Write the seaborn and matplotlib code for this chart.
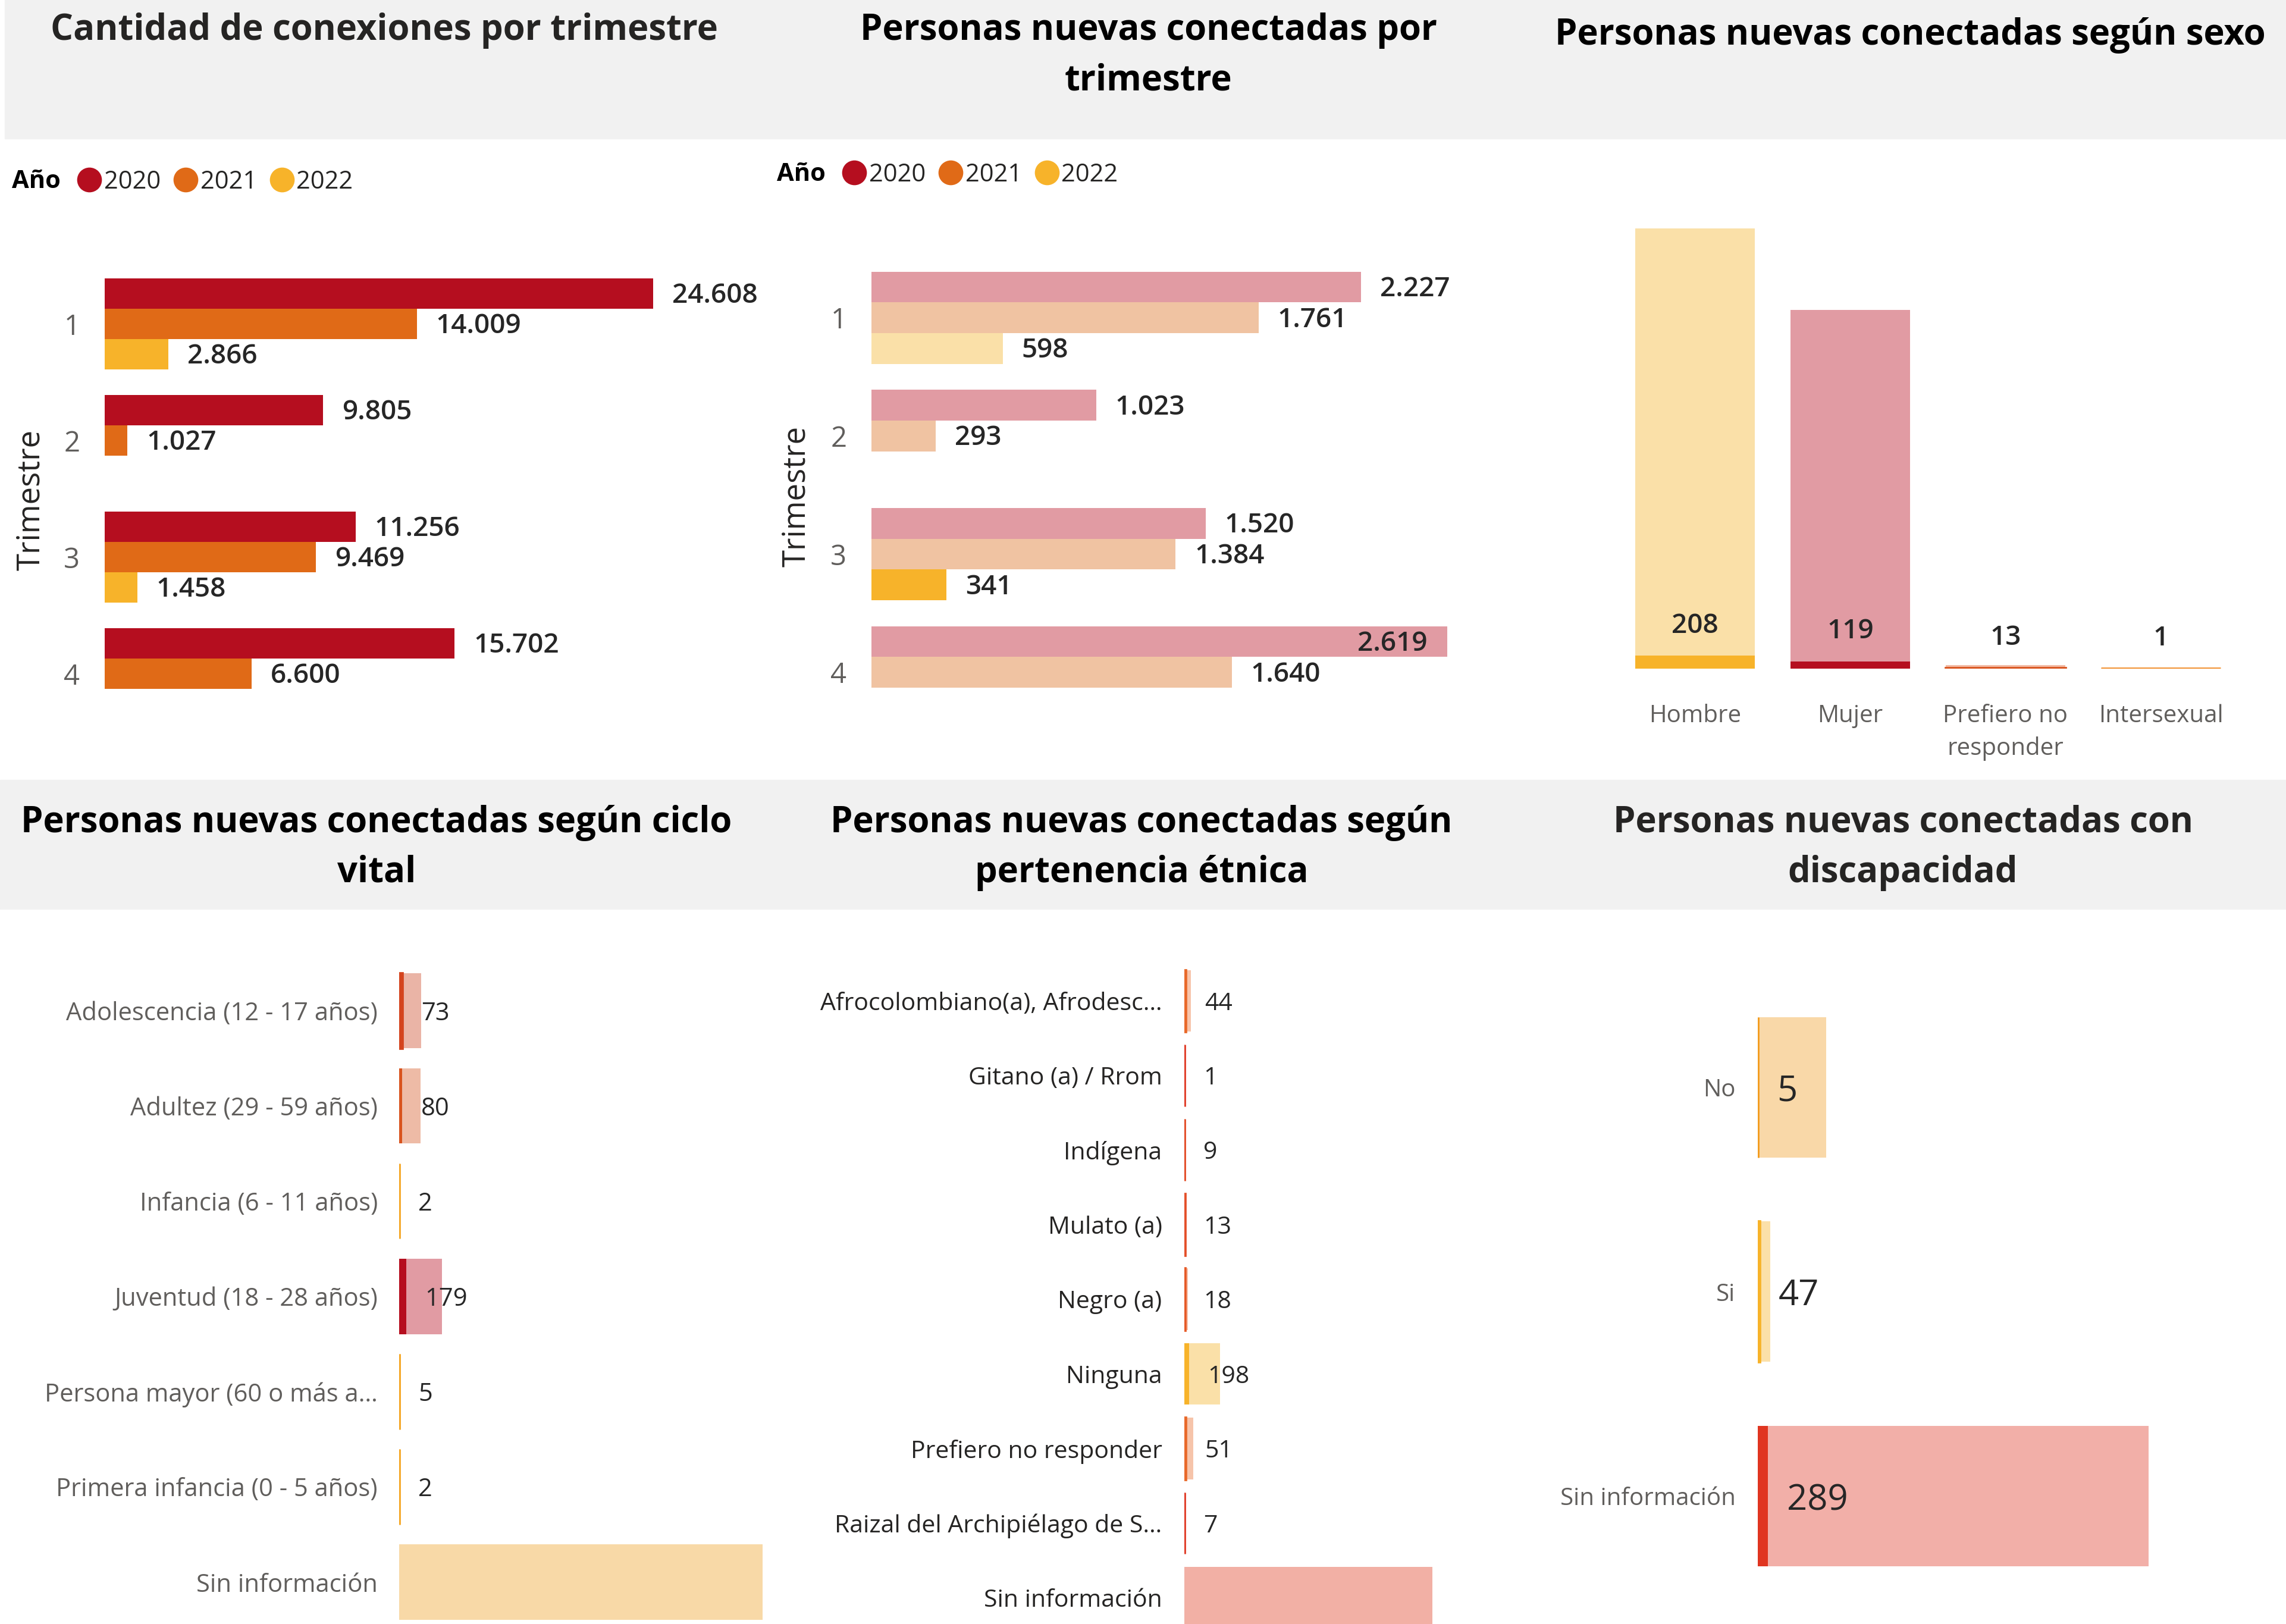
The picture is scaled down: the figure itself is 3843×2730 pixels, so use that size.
import pandas as pd
import seaborn as sns
import matplotlib.pyplot as plt
from matplotlib.patches import Rectangle
from matplotlib.lines import Line2D

sns.set_theme(style='white')
plt.rcParams['font.family'] = ['Open Sans', 'DejaVu Sans']

W, H = 3843, 2730

# ---------------- datos ----------------
trimestres = ['1', '2', '3', '4']
anios = ['2020', '2021', '2022']
filas_trim = ['1', '1', '1', '2', '2', '3', '3', '3', '4', '4']
filas_anio = ['2020', '2021', '2022', '2020', '2021', '2020', '2021', '2022', '2020', '2021']
conexiones = [24608, 14009, 2866, 9805, 1027, 11256, 9469, 1458, 15702, 6600]
personas = [2227, 1761, 598, 1023, 293, 1520, 1384, 341, 2619, 1640]
sel_trim, sel_anio = '3', '2022'   # seleccion resaltada en el tablero

sexo_cat = ['Hombre', 'Mujer', 'Prefiero no\nresponder', 'Intersexual']
sexo_total = [7100, 5790, 55, 12]
sexo_sel = [208, 119, 13, 1]

ciclo_cat = ['Adolescencia (12 - 17 años)', 'Adultez (29 - 59 años)', 'Infancia (6 - 11 años)',
             'Juventud (18 - 28 años)', 'Persona mayor (60 o más a…', 'Primera infancia (0 - 5 años)',
             'Sin información']
ciclo_total = [570, 547, 30, 1109, 40, 30, 11020]
ciclo_sel = [73, 80, 2, 179, 5, 2, 0]

etnia_cat = ['Afrocolombiano(a), Afrodesc…', 'Gitano (a) / Rrom', 'Indígena', 'Mulato (a)', 'Negro (a)',
             'Ninguna', 'Prefiero no responder', 'Raizal del Archipiélago de S…', 'Sin información']
etnia_total = [290, 15, 60, 70, 150, 1550, 390, 40, 10840]
etnia_sel = [44, 1, 9, 13, 18, 198, 51, 7, 0]

disc_cat = ['No', 'Si', 'Sin información']
disc_total = [1945, 355, 11106]
disc_sel = [5, 47, 289]

# ---------------- colores ----------------
anio_col = ['#B50E1F', '#E06A17', '#F7B32A']
anio_claro = ['#E19BA3', '#F0C3A2', '#FAE0A8']
sexo_col = ['#F7B32A', '#B50E1F', '#D9541E', '#F08A24']
sexo_claro = ['#FAE0A8', '#E19BA3', '#F2BBA5', '#F9D0A7']
ciclo_col = ['#D4441E', '#D9541E', '#F5A623', '#B50E1F', '#F5A623', '#F5A623', '#F2A63A']
ciclo_claro = ['#EAB4A6', '#EEBBA6', '#FBDDA7', '#E19BA3', '#FBDDA7', '#FBDDA7', '#F8D9A7']
etnia_col = ['#E8692A', '#E03A25', '#E24A24', '#E4502A', '#E65A28', '#F7B32A', '#E8692A', '#E03A25', '#E8574A']
etnia_claro = ['#F7C4AA', '#F3B0A8', '#F4B5A7', '#F4B9A9', '#F5BFA8', '#FAE0A8', '#F6C4AA', '#F3B0A8', '#F2B0A5']
disc_col = ['#F39C1F', '#F7B32A', '#E03520']
disc_claro = ['#F9D8A8', '#FBE0A9', '#F2AFA8']

GRIS = '#605E5C'
OSCURO = '#252423'

fig = plt.figure(figsize=(W / 100, H / 100), dpi=100)
fig.patch.set_facecolor('white')


def px_ax(left, top, right, bottom):
    ax = fig.add_axes([left / W, 1 - bottom / H, (right - left) / W, (bottom - top) / H])
    ax.set_facecolor('none')
    return ax


def miles(v):
    return f'{v:,.0f}'.replace(',', '.')


def limpiar(ax):
    sns.despine(ax=ax, left=True, bottom=True)
    ax.set_xlabel('')
    ax.set_ylabel('')


# encabezados grises
fig.add_artist(Rectangle((8 / W, 1 - 233 / H), 1 - 8 / W, 233 / H, transform=fig.transFigure,
                         color='#F1F1F1', zorder=0))
fig.add_artist(Rectangle((0, 1 - 1528 / H), 1, (1528 - 1311) / H, transform=fig.transFigure,
                         color='#F1F1F1', zorder=0))

tit_kw = dict(ha='center', va='center', fontsize=43, fontweight='bold', linespacing=1.5)
fig.text(646 / W, 1 - 51 / H, 'Cantidad de conexiones por trimestre', color=OSCURO, **tit_kw)
fig.text(1931 / W, 1 - 94 / H, 'Personas nuevas conectadas por\ntrimestre', color='black', **tit_kw)
fig.text(3211 / W, 1 - 60 / H, 'Personas nuevas conectadas según sexo', color='black', **tit_kw)
fig.text(633 / W, 1 - 1425 / H, 'Personas nuevas conectadas según ciclo\nvital', color='black', **tit_kw)
fig.text(1919 / W, 1 - 1425 / H, 'Personas nuevas conectadas según\npertenencia étnica', color='black', **tit_kw)
fig.text(3199 / W, 1 - 1425 / H, 'Personas nuevas conectadas con\ndiscapacidad', color=OSCURO, **tit_kw)


def leyenda(x_txt, x_leg, y):
    fig.text(x_txt / W, 1 - y / H, 'Año', fontsize=30, fontweight='bold', color='black',
             ha='left', va='center')
    manejadores = [Line2D([], [], marker='o', ls='', markersize=29, markerfacecolor=c,
                          markeredgecolor=c) for c in anio_col]
    leg = fig.legend(manejadores, anios, loc='center left', bbox_to_anchor=(x_leg / W, 1 - y / H),
                     ncol=3, frameon=False, fontsize=30, handlelength=0.8, handletextpad=0.2,
                     columnspacing=0.6, borderpad=0, borderaxespad=0)
    for t in leg.get_texts():
        t.set_color(OSCURO)


def etiquetas_h(ax, contenedores, xmax, fs):
    for c in contenedores:
        for bar in c:
            w = bar.get_width()
            y = bar.get_y() + bar.get_height() / 2
            if w > 0.85 * xmax:
                ax.annotate(miles(w), (w, y), xytext=(-24, -3), textcoords='offset points',
                            ha='right', va='center', fontsize=fs, fontweight='semibold')
            else:
                ax.annotate(miles(w), (w, y), xytext=(23, -3), textcoords='offset points',
                            ha='left', va='center', fontsize=fs, fontweight='semibold')


def trimestre_ax(ax, xmax):
    ax.set_xlim(0, xmax)
    ax.set_ylim(3.7, -0.6)
    limpiar(ax)
    ax.set_xticks([])
    ax.tick_params(axis='y', length=0, pad=30, labelsize=34, labelcolor=GRIS)
    ax.set_ylabel('Trimestre', fontsize=38, color=OSCURO)
    ax.yaxis.set_label_coords(-0.088, 0.509)


def realzar_fino(p, tam, limite):
    # Power BI dibuja los valores minimos como una linea visible
    if 0 < tam < limite:
        p.set_edgecolor(p.get_facecolor())
        p.set_linewidth(3.4)


# ---- 1: conexiones por trimestre ----
df1 = pd.DataFrame({'Trimestre': filas_trim, 'Año': filas_anio, 'valor': conexiones})
ax1 = px_ax(176, 427, 1282, 1270)
sns.barplot(data=df1, x='valor', y='Trimestre', hue='Año', order=trimestres, hue_order=anios,
            palette=anio_col, saturation=1, dodge=True, width=0.78, linewidth=0, legend=False, ax=ax1)
trimestre_ax(ax1, 29520)
etiquetas_h(ax1, ax1.containers, 29520, 33)
leyenda(20, 133, 306)

# ---- 2: personas nuevas por trimestre (resaltado Q3 2022) ----
df2 = pd.DataFrame({'Trimestre': filas_trim, 'Año': filas_anio, 'valor': personas})
ax2 = px_ax(1465, 415, 2591, 1269)
sns.barplot(data=df2, x='valor', y='Trimestre', hue='Año', order=trimestres, hue_order=anios,
            palette=anio_claro, saturation=1, dodge=True, width=0.78, linewidth=0, legend=False, ax=ax2)
base = list(ax2.containers)
df2s = df2[(df2['Trimestre'] == sel_trim) & (df2['Año'] == sel_anio)]
sns.barplot(data=df2s, x='valor', y='Trimestre', hue='Año', order=trimestres, hue_order=anios,
            palette=anio_col, saturation=1, dodge=True, width=0.78, linewidth=0, legend=False, ax=ax2)
trimestre_ax(ax2, 3047)
etiquetas_h(ax2, base, 3047, 33)
leyenda(1306, 1419, 294)

# ---- 3: sexo ----
df3 = pd.DataFrame({'cat': sexo_cat, 'total': sexo_total, 'sel': sexo_sel})
ax3 = px_ax(2719, 300, 3763, 1124)
sns.barplot(data=df3, x='cat', y='total', hue='cat', order=sexo_cat, hue_order=sexo_cat,
            palette=dict(zip(sexo_cat, sexo_claro)), saturation=1, width=0.77, linewidth=0,
            legend=False, ax=ax3)
n = len(ax3.patches)
sns.barplot(data=df3, x='cat', y='sel', hue='cat', order=sexo_cat, hue_order=sexo_cat,
            palette=dict(zip(sexo_cat, sexo_col)), saturation=1, width=0.77, linewidth=0,
            legend=False, ax=ax3)
for p in ax3.patches[n:]:
    h = p.get_height()
    realzar_fino(p, h, 7910 * 0.008)
    ax3.annotate(f'{h:.0f}', (p.get_x() + p.get_width() / 2, h), xytext=(0, 20),
                 textcoords='offset points', ha='center', va='bottom', fontsize=33,
                 fontweight='semibold')
ax3.set_ylim(0, 7910)
limpiar(ax3)
ax3.set_yticks([])
ax3.tick_params(axis='x', length=0, pad=43, labelsize=29, labelcolor=GRIS)
for t in ax3.get_xticklabels():
    t.set_linespacing(1.45)
    t.set_va('top')


# ---- barras horizontales con resaltado ----
def barras_h(ax, cats, total, sel, col, claro, ancho, xmax, ylim, fs_cat, col_cat, fs_val, pad):
    df = pd.DataFrame({'cat': cats, 'total': total, 'sel': sel})
    sns.barplot(data=df, x='total', y='cat', hue='cat', order=cats, hue_order=cats,
                palette=dict(zip(cats, claro)), saturation=1, width=ancho, linewidth=0,
                legend=False, ax=ax)
    n = len(ax.patches)
    sns.barplot(data=df, x='sel', y='cat', hue='cat', order=cats, hue_order=cats,
                palette=dict(zip(cats, col)), saturation=1, width=ancho, linewidth=0,
                legend=False, ax=ax)
    for p in ax.patches[n:]:
        w = p.get_width()
        if w <= 0:
            continue
        realzar_fino(p, w, xmax * 0.008)
        ax.annotate(f'{w:.0f}', (w, p.get_y() + p.get_height() / 2), xytext=(23, 0),
                    textcoords='offset points', ha='left', va='center_baseline', fontsize=fs_val)
    ax.set_xlim(0, xmax)
    ax.set_ylim(*ylim)
    limpiar(ax)
    ax.set_xticks([])
    ax.tick_params(axis='y', length=0, pad=pad, labelsize=fs_cat, labelcolor=col_cat)


ax4 = px_ax(671, 1603, 1282, 2730)
barras_h(ax4, ciclo_cat, ciclo_total, ciclo_sel, ciclo_col, ciclo_claro, 0.79, 9410,
         (6.44, -0.6), 30, GRIS, 30, 26)

ax5 = px_ax(1991, 1607, 2591, 2730)
barras_h(ax5, etnia_cat, etnia_total, etnia_sel, etnia_col, etnia_claro, 0.825, 15600,
         (8.35, -0.6), 29.5, OSCURO, 29.5, 27)

ax6 = px_ax(2955, 1560, 3843, 2728)
barras_h(ax6, disc_cat, disc_total, disc_sel, disc_col, disc_claro, 0.687, 15007,
         (2.62, -0.78), 29, GRIS, 43, 27)

fig.savefig('out.png', dpi=100, facecolor='white')
